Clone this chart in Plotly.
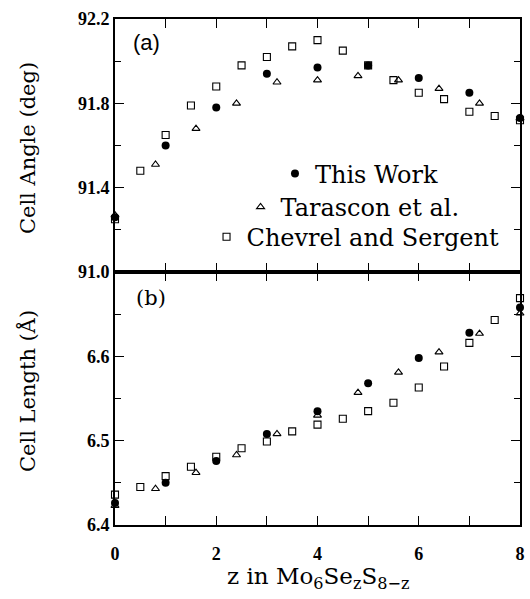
import plotly.graph_objects as go

# ---------------- data ----------------
# (a) Cell angle (deg)
z_this = [0, 1, 2, 3, 4, 5, 6, 7, 8]
angle_this = [91.26, 91.60, 91.78, 91.94, 91.97, 91.98, 91.92, 91.85, 91.73]

z_tara = [0, 0.8, 1.6, 2.4, 3.2, 4.0, 4.8, 5.6, 6.4, 7.2, 8]
angle_tara = [91.27, 91.51, 91.68, 91.80, 91.90, 91.91, 91.93, 91.91, 91.87, 91.80, 91.73]

z_chev = [0, 0.5, 1, 1.5, 2, 2.5, 3, 3.5, 4, 4.5, 5, 5.5, 6, 6.5, 7, 7.5, 8]
angle_chev = [91.25, 91.48, 91.65, 91.79, 91.88, 91.98, 92.02, 92.07, 92.10, 92.05,
              91.98, 91.91, 91.85, 91.82, 91.76, 91.74, 91.72]

# (b) Cell length (Angstrom)
length_this = [6.426, 6.450, 6.476, 6.508, 6.535, 6.568, 6.598, 6.628, 6.658]
length_tara = [6.423, 6.443, 6.462, 6.483, 6.508, 6.530, 6.557, 6.581, 6.605, 6.627, 6.651]
length_chev = [6.436, 6.445, 6.458, 6.469, 6.481, 6.491, 6.499, 6.511, 6.519, 6.526,
               6.535, 6.545, 6.563, 6.588, 6.616, 6.643, 6.669]

series_names = ["This Work", "Tarascon et al.", "Chevrel and Sergent"]
x_ticks = [0, 2, 4, 6, 8]
angle_ticks = [91.0, 91.4, 91.8, 92.2]
length_ticks = [6.4, 6.5, 6.6]

# ---------------- styling ----------------
TXT = "DejaVu Serif"
TICKFONT = dict(family="Liberation Serif", size=18, color="black", weight="bold")

circle = dict(symbol="circle", size=8, color="black", line=dict(width=0))
tri = dict(symbol="triangle-up-open", size=7, color="black", line=dict(width=1.1, color="black"))
sq = dict(symbol="square-open", size=7, color="black", line=dict(width=1.1, color="black"))

fig = go.Figure()

# top panel (a)
fig.add_trace(go.Scatter(x=z_this, y=angle_this, mode="markers", marker=circle,
                         name=series_names[0], xaxis="x2", yaxis="y2", cliponaxis=False,
                         legend="legend"))
fig.add_trace(go.Scatter(x=z_tara, y=angle_tara, mode="markers", marker=tri,
                         name=series_names[1], xaxis="x2", yaxis="y2", cliponaxis=False,
                         legend="legend2"))
fig.add_trace(go.Scatter(x=z_chev, y=angle_chev, mode="markers", marker=sq,
                         name=series_names[2], xaxis="x2", yaxis="y2", cliponaxis=False,
                         legend="legend3"))
# bottom panel (b)
fig.add_trace(go.Scatter(x=z_this, y=length_this, mode="markers", marker=circle,
                         name=series_names[0], showlegend=False, cliponaxis=False))
fig.add_trace(go.Scatter(x=z_tara, y=length_tara, mode="markers", marker=tri,
                         name=series_names[1], showlegend=False, cliponaxis=False))
fig.add_trace(go.Scatter(x=z_chev, y=length_chev, mode="markers", marker=sq,
                         name=series_names[2], showlegend=False, cliponaxis=False))

axis_common = dict(showline=True, linecolor="black", linewidth=1.6, mirror="allticks",
                   ticks="inside", ticklen=9, tickwidth=1.2, tickcolor="black",
                   showgrid=False, zeroline=False, tickfont=TICKFONT)

fig.update_layout(
    width=530, height=599,
    margin=dict(l=115, r=5, t=19, b=74),
    paper_bgcolor="white", plot_bgcolor="white",
    xaxis=dict(axis_common, range=[0, 8], tickvals=x_ticks, anchor="y", domain=[0, 1],
               ticklabelstandoff=12,
               minor=dict(dtick=1, ticks="inside", ticklen=9, tickwidth=1.2, tickcolor="black")),
    yaxis=dict(axis_common, range=[6.4, 6.7], tickvals=length_ticks, domain=[0, 0.5],
               anchor="x", tickformat=".1f",
               minor=dict(dtick=0.05, tick0=6.4, ticks="inside", ticklen=6, tickwidth=1.2,
                          tickcolor="black")),
    xaxis2=dict(axis_common, range=[0, 8], tickvals=x_ticks, anchor="y2", matches="x",
                showticklabels=False,
                minor=dict(dtick=1, ticks="inside", ticklen=9, tickwidth=1.2, tickcolor="black")),
    yaxis2=dict(axis_common, range=[91.0, 92.2], tickvals=angle_ticks, domain=[0.5, 1],
                anchor="x2", tickformat=".1f",
                minor=dict(dtick=0.2, tick0=91.0, ticks="inside", ticklen=6, tickwidth=1.2,
                           tickcolor="black")),
    legend=dict(x=0.395, y=0.694, xanchor="left", yanchor="middle", bgcolor="rgba(0,0,0,0)",
                font=dict(family=TXT, size=24, color="black")),
    legend2=dict(x=0.310, y=0.628, xanchor="left", yanchor="middle", bgcolor="rgba(0,0,0,0)",
                 font=dict(family=TXT, size=24, color="black")),
    legend3=dict(x=0.226, y=0.569, xanchor="left", yanchor="middle", bgcolor="rgba(0,0,0,0)",
                 font=dict(family=TXT, size=24, color="black")),
    showlegend=True,
)

ann = [
    dict(text="(a)", x=0.078, y=0.953, xref="paper", yref="paper", showarrow=False,
         xanchor="center", yanchor="middle",
         font=dict(family="Liberation Sans", size=22, color="black")),
    dict(text="(b)", x=0.09, y=0.449, xref="paper", yref="paper", showarrow=False,
         xanchor="center", yanchor="middle",
         font=dict(family=TXT, size=21, color="black")),
    dict(text="Cell Angle (deg)", x=-0.2146, y=0.745, xref="paper", yref="paper",
         xanchor="center", yanchor="middle",
         showarrow=False, textangle=-90, font=dict(family=TXT, size=21, color="black")),
    dict(text="Cell Length (Å)", x=-0.2146, y=0.265, xref="paper", yref="paper",
         xanchor="center", yanchor="middle",
         showarrow=False, textangle=-90, font=dict(family=TXT, size=21, color="black")),
    dict(text="z in Mo<sub>6</sub>Se<sub>z</sub>S<sub>8−z</sub>", x=0.5, y=-0.105,
         xref="paper", yref="paper", showarrow=False, xanchor="center", yanchor="middle",
         font=dict(family=TXT, size=23, color="black")),
]
fig.update_layout(annotations=ann)

fig.write_html("out.html",
               config={"displayModeBar": False},
               post_script="document.body.style.margin='0';"
                           "document.body.style.overflow='hidden';")
